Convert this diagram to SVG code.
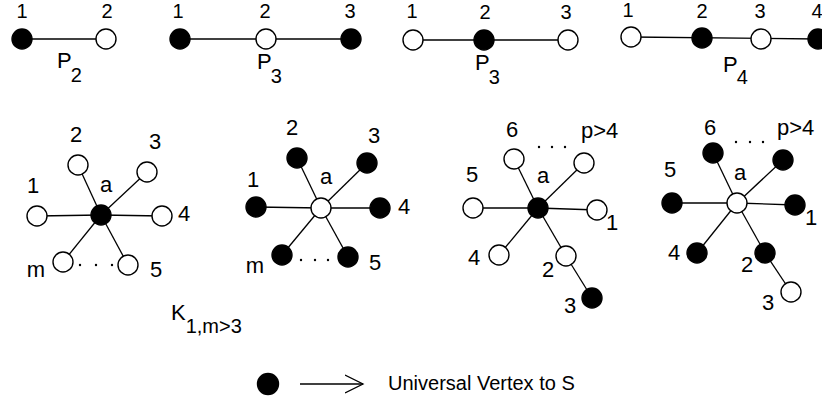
<svg xmlns="http://www.w3.org/2000/svg" width="822" height="402" viewBox="0 0 822 402">
<style>
.e{stroke:#000;stroke-width:1.3;fill:none}
.o{fill:#fff;stroke:#000;stroke-width:1.4}
.f{fill:#000;stroke:#000;stroke-width:1.4}
text{font-family:"Liberation Sans",Arial,sans-serif;font-size:20px;fill:#000}
.c{text-anchor:middle}
.L{font-size:22px}
.P{font-size:22px}
.d{fill:#000}
</style>
<defs>
<marker id="ah" markerWidth="20" markerHeight="22" refX="18" refY="11" orient="auto" markerUnits="userSpaceOnUse">
<path d="M0,2 L18,11 L0,20" fill="none" stroke="#000" stroke-width="1.3"/>
</marker>
</defs>
<rect width="822" height="402" fill="#fff"/>
<g id="connectors">
<line class="e" x1="22" y1="39" x2="106" y2="39"/>
<line class="e" x1="180" y1="39" x2="351" y2="39"/>
<line class="e" x1="413" y1="40" x2="568" y2="40"/>
<line class="e" x1="631" y1="37" x2="818" y2="39"/>
<line class="e" x1="101" y1="215" x2="37" y2="216"/>
<line class="e" x1="101" y1="215" x2="78" y2="165"/>
<line class="e" x1="101" y1="215" x2="147" y2="172"/>
<line class="e" x1="101" y1="215" x2="162" y2="216"/>
<line class="e" x1="101" y1="215" x2="128" y2="265"/>
<line class="e" x1="101" y1="215" x2="63" y2="262"/>
<line class="e" x1="321" y1="208" x2="256" y2="207"/>
<line class="e" x1="321" y1="208" x2="297" y2="158"/>
<line class="e" x1="321" y1="208" x2="367" y2="163"/>
<line class="e" x1="321" y1="208" x2="380" y2="208"/>
<line class="e" x1="321" y1="208" x2="348" y2="257"/>
<line class="e" x1="321" y1="208" x2="282" y2="255"/>
<line class="e" x1="538" y1="208" x2="473" y2="208"/>
<line class="e" x1="538" y1="208" x2="514" y2="159"/>
<line class="e" x1="538" y1="208" x2="584" y2="163"/>
<line class="e" x1="538" y1="208" x2="597" y2="210"/>
<line class="e" x1="538" y1="208" x2="499" y2="255"/>
<line class="e" x1="538" y1="208" x2="566" y2="256"/>
<line class="e" x1="566" y1="256" x2="592" y2="298"/>
<line class="e" x1="737" y1="203" x2="672" y2="203"/>
<line class="e" x1="737" y1="203" x2="713" y2="153"/>
<line class="e" x1="737" y1="203" x2="783" y2="160"/>
<line class="e" x1="737" y1="203" x2="795" y2="205"/>
<line class="e" x1="737" y1="203" x2="697" y2="253"/>
<line class="e" x1="737" y1="203" x2="765" y2="253"/>
<line class="e" x1="765" y1="253" x2="791" y2="292"/>
<line class="e" x1="300" y1="384" x2="363" y2="384" marker-end="url(#ah)"/>
</g>
<g id="P2">
<circle class="f" cx="22" cy="39" r="10"/>
<circle class="o" cx="106" cy="39" r="10"/>
<text class="c" x="22" y="18">1</text>
<text class="c" x="107" y="18">2</text>
<text class="P" x="57" y="68">P<tspan dx="-1" dy="14" font-size="20">2</tspan></text>
</g>
<g id="P3a">
<circle class="f" cx="180" cy="39" r="10"/>
<circle class="o" cx="266" cy="39" r="10"/>
<circle class="f" cx="351" cy="39" r="10"/>
<text class="c" x="178" y="18">1</text>
<text class="c" x="265" y="18">2</text>
<text class="c" x="350" y="18">3</text>
<text class="P" x="257" y="69">P<tspan dx="-1" dy="14" font-size="20">3</tspan></text>
</g>
<g id="P3b">
<circle class="o" cx="413" cy="40" r="10"/>
<circle class="f" cx="484" cy="40" r="10"/>
<circle class="o" cx="568" cy="40" r="10"/>
<text class="c" x="412" y="18">1</text>
<text class="c" x="485" y="19">2</text>
<text class="c" x="566" y="19">3</text>
<text class="P" x="475" y="70">P<tspan dx="-1" dy="14" font-size="20">3</tspan></text>
</g>
<g id="P4">
<circle class="o" cx="631" cy="37" r="10"/>
<circle class="f" cx="702" cy="38" r="10"/>
<circle class="o" cx="761" cy="39" r="10"/>
<circle class="f" cx="818" cy="39" r="10"/>
<text class="c" x="628" y="17">1</text>
<text class="c" x="702" y="18">2</text>
<text class="c" x="760" y="18">3</text>
<text class="c" x="817" y="18">4</text>
<text class="P" x="723" y="72">P<tspan dx="-1" dy="12" font-size="20">4</tspan></text>
</g>
<g id="star1">
<circle class="f" cx="101" cy="215" r="10"/>
<circle class="o" cx="37" cy="216" r="10"/>
<circle class="o" cx="78" cy="165" r="10"/>
<circle class="o" cx="147" cy="172" r="10"/>
<circle class="o" cx="162" cy="216" r="10"/>
<circle class="o" cx="128" cy="265" r="10"/>
<circle class="o" cx="63" cy="262" r="10"/>
<text class="c L" x="76" y="142">2</text>
<text class="c L" x="155" y="149">3</text>
<text class="c L" x="33" y="193">1</text>
<text class="c L" x="106" y="192">a</text>
<text class="c L" x="184" y="221">4</text>
<text class="c L" x="36" y="277">m</text>
<text class="c L" x="156" y="277">5</text>
<circle class="d" cx="80" cy="265" r="1.2"/><circle class="d" cx="96" cy="265" r="1.2"/><circle class="d" cx="112" cy="265" r="1.2"/>
</g>
<g id="K">
<text class="P" x="171" y="320">K<tspan dy="13" font-size="20">1,m&gt;3</tspan></text>
</g>
<g id="star2">
<circle class="o" cx="321" cy="208" r="10"/>
<circle class="f" cx="256" cy="207" r="10"/>
<circle class="f" cx="297" cy="158" r="10"/>
<circle class="f" cx="367" cy="163" r="10"/>
<circle class="f" cx="380" cy="208" r="10"/>
<circle class="f" cx="348" cy="257" r="10"/>
<circle class="f" cx="282" cy="255" r="10"/>
<text class="c L" x="292" y="135">2</text>
<text class="c L" x="374" y="143">3</text>
<text class="c L" x="253" y="187">1</text>
<text class="c L" x="326" y="184">a</text>
<text class="c L" x="404" y="214">4</text>
<text class="c L" x="255" y="273">m</text>
<text class="c L" x="375" y="270">5</text>
<circle class="d" cx="301" cy="260" r="1.2"/><circle class="d" cx="315" cy="260" r="1.2"/><circle class="d" cx="328" cy="260" r="1.2"/>
</g>
<g id="star3">
<circle class="f" cx="538" cy="208" r="10"/>
<circle class="o" cx="473" cy="208" r="10"/>
<circle class="o" cx="514" cy="159" r="10"/>
<circle class="o" cx="584" cy="163" r="10"/>
<circle class="o" cx="597" cy="210" r="10"/>
<circle class="o" cx="499" cy="255" r="10"/>
<circle class="o" cx="566" cy="256" r="10"/>
<circle class="f" cx="592" cy="298" r="10"/>
<text class="c L" x="512" y="137">6</text>
<text class="L" x="581" y="138">p&gt;4</text>
<circle class="d" cx="539" cy="147" r="1.2"/><circle class="d" cx="552" cy="147" r="1.2"/><circle class="d" cx="565" cy="147" r="1.2"/>
<text class="c L" x="472" y="182">5</text>
<text class="c L" x="543" y="183">a</text>
<text class="c L" x="612" y="230">1</text>
<text class="c L" x="474" y="265">4</text>
<text class="c L" x="548" y="277">2</text>
<text class="c L" x="570" y="313">3</text>
</g>
<g id="star4">
<circle class="o" cx="737" cy="203" r="10"/>
<circle class="f" cx="672" cy="203" r="10"/>
<circle class="f" cx="713" cy="153" r="10"/>
<circle class="f" cx="783" cy="160" r="10"/>
<circle class="f" cx="795" cy="205" r="10"/>
<circle class="f" cx="697" cy="253" r="10"/>
<circle class="f" cx="765" cy="253" r="10"/>
<circle class="o" cx="791" cy="292" r="10"/>
<text class="c L" x="710" y="135">6</text>
<text class="L" x="777" y="135">p&gt;4</text>
<circle class="d" cx="736" cy="142" r="1.2"/><circle class="d" cx="750" cy="142" r="1.2"/><circle class="d" cx="763" cy="142" r="1.2"/>
<text class="c L" x="670" y="177">5</text>
<text class="c L" x="740" y="180">a</text>
<text class="c L" x="811" y="225">1</text>
<text class="c L" x="674" y="260">4</text>
<text class="c L" x="747" y="272">2</text>
<text class="c L" x="768" y="310">3</text>
</g>
<g id="legend">
<circle class="f" cx="268" cy="384" r="10.5"/>
<text x="388" y="390" style="font-size:20px">Universal Vertex to S</text>
</g>
</svg>
